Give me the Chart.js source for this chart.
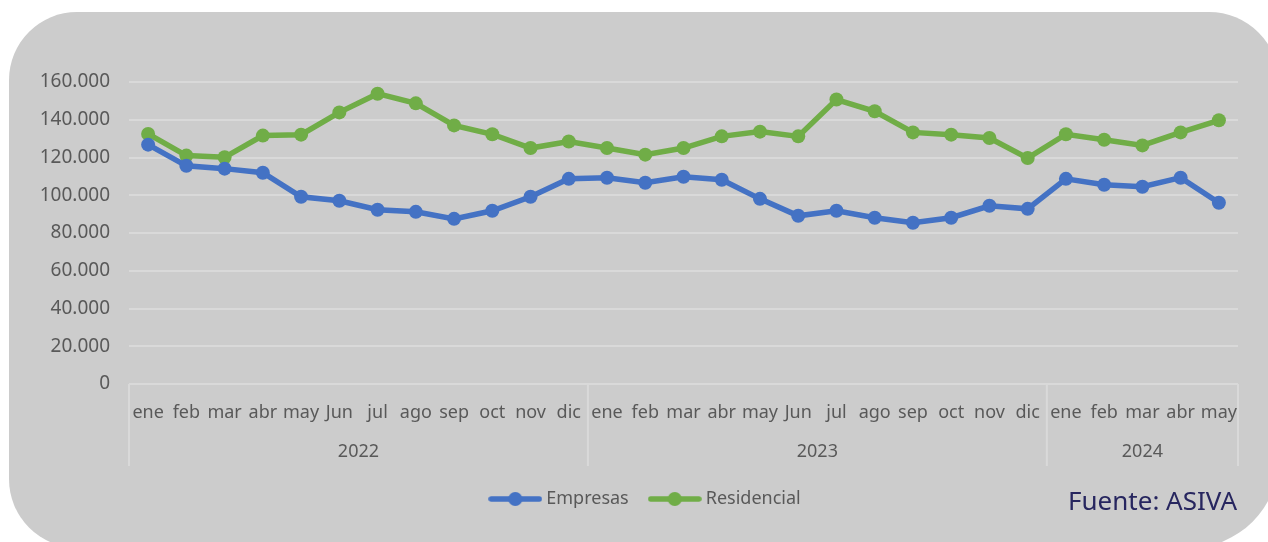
<!DOCTYPE html>
<html>
<head>
<meta charset="utf-8">
<script src="https://cdn.jsdelivr.net/npm/chart.js@4.4.1/dist/chart.umd.min.js"></script>
<style>
  html,body{margin:0;padding:0;background:#fff;width:1268px;height:542px;overflow:hidden;}
  .panel{position:absolute;left:9px;top:12px;width:1270px;height:536px;background:#cccccc;
    border-radius:68px 70px 90px 69px;}
  #chart{position:absolute;left:0;top:0;}
  .fuente{position:absolute;right:31px;top:485px;font-family:'Noto Sans',sans-serif;font-size:26px;
    line-height:30px;color:#27265f;}
</style>
</head>
<body>
<div class="panel"></div>
<canvas id="chart" width="1268" height="542"></canvas>
<div class="fuente">Fuente: ASIVA</div>
<script>
// ---- datos ----
const years=['2022','2023','2024'];
const monthsPerYear=[12,12,5];
const monthNames=['ene','feb','mar','abr','may','Jun','jul','ago','sep','oct','nov','dic'];
const empresas=[126800,115600,114100,111900,99200,97100,92300,91200,87500,91800,99200,108700,
  109300,106600,109800,108200,98100,89100,91800,88100,85400,88100,94400,92800,
  108700,105600,104500,109300,96000];
const residencial=[132500,121000,120100,131600,132100,143900,153800,148700,137000,132300,125000,128500,
  125000,121500,125000,131200,133700,131200,150700,144500,133300,132100,130300,119700,
  132300,129400,126400,133300,139700];
const yTicks={min:0,max:160000,step:20000};

const labels=[];
monthsPerYear.forEach(n=>{for(let i=0;i<n;i++)labels.push(monthNames[i]);});

Chart.defaults.font.family="'Noto Sans',sans-serif";
Chart.defaults.font.size=18;
Chart.defaults.color='#595959';

const BLUE='#4472c4', GREEN='#70ad47';

// marcador de leyenda: línea con punto
function legendMarker(color){
  const c=document.createElement('canvas');
  c.width=54;c.height=16;
  const g=c.getContext('2d');
  g.strokeStyle=color;g.lineWidth=5.5;g.lineCap='round';
  g.beginPath();g.moveTo(3,8);g.lineTo(51,8);g.stroke();
  g.fillStyle=color;g.beginPath();g.arc(27,8,7,0,Math.PI*2);g.fill();
  return c;
}
const markers=[legendMarker(BLUE),legendMarker(GREEN)];

// eje de años + separadores
const yearAxis={
  id:'yearAxis',
  afterLayout(chart){
    // leyenda un poco a la derecha, como en el original
    chart.legend.left+=13;chart.legend.right+=13;
  },
  afterDraw(chart){
    const {ctx,chartArea}=chart;
    const x=chart.scales.x;
    const half=(x.getPixelForValue(1)-x.getPixelForValue(0))/2;
    const top=chartArea.bottom, bottom=466;
    ctx.save();
    ctx.strokeStyle='#d9d9d9';ctx.lineWidth=2;
    ctx.fillStyle='#595959';ctx.font="18px 'Noto Sans',sans-serif";
    ctx.textAlign='center';ctx.textBaseline='middle';
    let idx=0;
    years.forEach((yr,k)=>{
      const n=monthsPerYear[k];
      const left=x.getPixelForValue(idx)-half;
      const right=x.getPixelForValue(idx+n-1)+half;
      ctx.beginPath();ctx.moveTo(left,top);ctx.lineTo(left,bottom);ctx.stroke();
      if(k===years.length-1){ctx.beginPath();ctx.moveTo(right,top);ctx.lineTo(right,bottom);ctx.stroke();}
      ctx.fillText(yr,(left+right)/2,452);
      idx+=n;
    });
    ctx.restore();
  }
};

new Chart(document.getElementById('chart'),{
  type:'line',
  data:{
    labels,
    datasets:[
      {label:'Empresas',data:empresas,borderColor:BLUE,backgroundColor:BLUE,borderWidth:5.5,
        pointRadius:7,pointBackgroundColor:BLUE,pointBorderWidth:0,tension:0},
      {label:'Residencial',data:residencial,borderColor:GREEN,backgroundColor:GREEN,borderWidth:5.5,
        pointRadius:7,pointBackgroundColor:GREEN,pointBorderWidth:0,tension:0}
    ]
  },
  options:{
    responsive:false,animation:false,
    layout:{padding:{left:30,right:30,top:82,bottom:24}},
    plugins:{
      legend:{position:'bottom',
        labels:{usePointStyle:true,pointStyleWidth:44,padding:24,color:'#595959',font:{size:18},
          generateLabels(chart){
            return Chart.defaults.plugins.legend.labels.generateLabels(chart).map((l,i)=>({...l,pointStyle:markers[i]}));
          }}},
      tooltip:{enabled:false}
    },
    scales:{
      x:{offset:true,grid:{display:false},border:{display:false},
        ticks:{autoSkip:false,maxRotation:0,padding:10,font:{size:18}},
        afterFit(s){s.height=82;}},
      y:{min:yTicks.min,max:yTicks.max,
        grid:{color:'#d9d9d9',lineWidth:2,drawTicks:false},border:{display:false},
        ticks:{stepSize:yTicks.step,padding:19,font:{size:19},
          callback:v=>v===0?'0':v.toLocaleString('de-DE')},
        afterFit(s){s.width=99;}}
    }
  },
  plugins:[yearAxis]
});
</script>
</body>
</html>
